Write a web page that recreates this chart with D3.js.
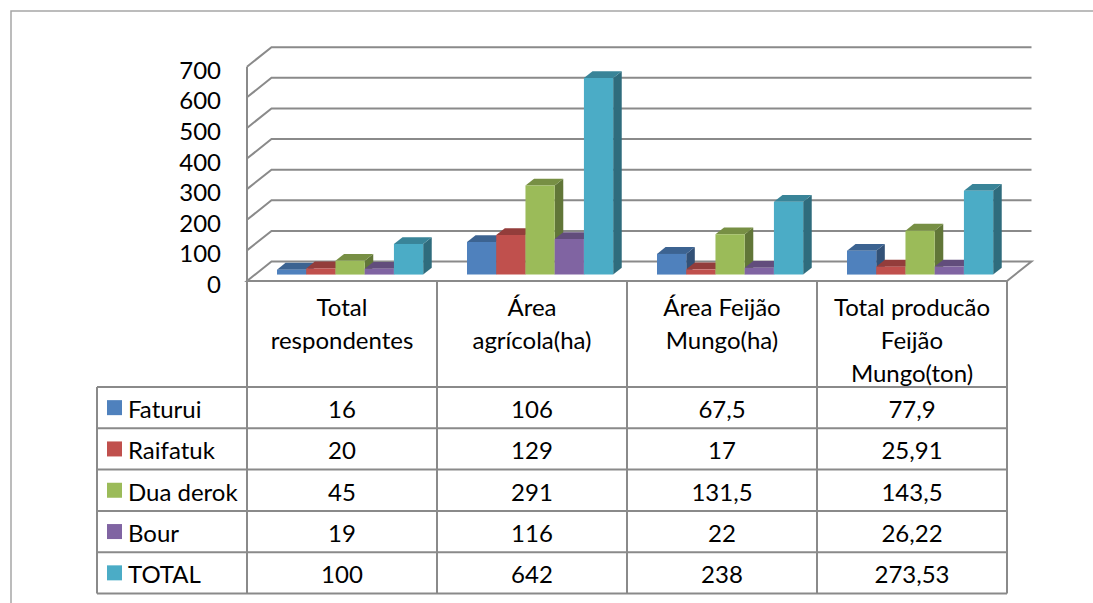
<!DOCTYPE html>
<html>
<head>
<meta charset="utf-8">
<script src="https://cdn.jsdelivr.net/npm/d3@7"></script>
<style>
  body { margin: 0; background: #fff; }
  svg { display: block; font-family: Lato, "Open Sans", sans-serif; }
</style>
</head>
<body>
<div id="chart"></div>
<script>
// categories (table header) and the wrapped lines Excel shows for them
var categories = ['Total respondentes', 'Área agrícola(ha)', 'Área Feijão Mungo(ha)', 'Total producão Feijão Mungo(ton)'];
var categoryLines = [
  ['Total', 'respondentes'],
  ['Área', 'agrícola(ha)'],
  ['Área Feijão', 'Mungo(ha)'],
  ['Total producão', 'Feijão', 'Mungo(ton)']
];

var seriesNames = ['Faturui', 'Raifatuk', 'Dua derok', 'Bour', 'TOTAL'];
var seriesColors = ['#4F81BD', '#C0504D', '#9BBB59', '#8064A2', '#4BACC6'];

var faturui  = [16, 106, 67.5, 77.9];
var raifatuk = [20, 129, 17, 25.91];
var duaDerok = [45, 291, 131.5, 143.5];
var bour     = [19, 116, 22, 26.22];
var total    = [100, 642, 238, 273.53];
var seriesValues = [faturui, raifatuk, duaDerok, bour, total];

var yTicks = [0, 100, 200, 300, 400, 500, 600, 700];

var W = 1093, H = 603;
var DX = 24.5, DY = -19.5;          // depth offset of the 3D box
var barDepth = [0.33, 0.68];         // bars sit in the middle of the depth
var plotL = 247, plotR = 1007;
var rowH = 41.3, headerBottom = 387;
var fontSize = 24;

var svg = d3.select('#chart').append('svg')
  .attr('width', W).attr('height', H);

svg.append('rect').attr('width', W).attr('height', H).attr('fill', '#fff');

// outer chart border (only top and left fall inside the picture)
svg.append('path')
  .attr('d', 'M11,' + H + 'V11H' + W)
  .attr('fill', 'none').attr('stroke', '#a6a6a6').attr('stroke-width', 1.5);

var x = d3.scaleBand().domain(categories).range([plotL, plotR]);
var xs = d3.scaleBand().domain(seriesNames).range([0, x.bandwidth()])
  .paddingInner(0).paddingOuter(0.75);
var y = d3.scaleLinear().domain([0, 700]).range([281, 66.7]);

function pt(px, py, d) { return [px + d * DX, py + d * DY]; }
function poly(pts) { return pts.map(function(p) { return p.join(','); }).join(' '); }

var gridColor = '#8a8a8a';

// floor
svg.append('polygon')
  .attr('points', poly([pt(plotL, y(0), 0), pt(plotL, y(0), 1), pt(plotR, y(0), 1), pt(plotR, y(0), 0)]))
  .attr('fill', '#fff').attr('stroke', gridColor).attr('stroke-width', 2);

// gridlines on left and back walls
svg.append('g').selectAll('polyline')
  .data(yTicks.filter(function(v) { return v > 0; }))
  .enter()
  .append('polyline')
  .attr('points', function(v) {
    return poly([pt(plotL, y(v), 0), pt(plotL, y(v), 1), pt(plotR, y(v), 1)]);
  })
  .attr('fill', 'none').attr('stroke', gridColor).attr('stroke-width', 2);

// front vertical axis edge
svg.append('line')
  .attr('x1', plotL).attr('x2', plotL)
  .attr('y1', y(700)).attr('y2', y(0))
  .attr('stroke', gridColor).attr('stroke-width', 2);

// y tick labels
svg.append('g').selectAll('text')
  .data(yTicks)
  .enter()
  .append('text')
  .attr('x', 221)
  .attr('y', function(v) { return y(v) + 2.5; })
  .attr('text-anchor', 'end')
  .attr('dominant-baseline', 'central')
  .attr('font-size', fontSize)
  .text(function(v) { return v; });

// 3D bars, drawn left to right so each bar hides the side of the one before
var bars = [];
categories.forEach(function(c, ci) {
  seriesNames.forEach(function(s, si) {
    bars.push({ cat: c, ser: s, color: seriesColors[si], value: seriesValues[si][ci] });
  });
});

var barG = svg.append('g');
bars.forEach(function(b) {
  var x0 = x(b.cat) + xs(b.ser), x1 = x0 + xs.bandwidth();
  var y0 = y(0), y1 = y(b.value);
  var f = barDepth[0], k = barDepth[1];
  var base = d3.color(b.color);
  // right side
  barG.append('polygon')
    .attr('points', poly([pt(x1, y0, f), pt(x1, y1, f), pt(x1, y1, k), pt(x1, y0, k)]))
    .attr('fill', base.darker(1.3));
  // top
  barG.append('polygon')
    .attr('points', poly([pt(x0, y1, f), pt(x1, y1, f), pt(x1, y1, k), pt(x0, y1, k)]))
    .attr('fill', base.darker(0.75));
  // front
  barG.append('polygon')
    .attr('points', poly([pt(x0, y0, f), pt(x1, y0, f), pt(x1, y1, f), pt(x0, y1, f)]))
    .attr('fill', base);
});

// data table
var tbl = svg.append('g').attr('stroke', gridColor).attr('stroke-width', 2);
var tableBottom = headerBottom + rowH * seriesNames.length;
x.domain().forEach(function(c) {
  tbl.append('line').attr('x1', x(c)).attr('x2', x(c)).attr('y1', y(0)).attr('y2', tableBottom);
});
tbl.append('line').attr('x1', plotR).attr('x2', plotR).attr('y1', y(0)).attr('y2', tableBottom);
tbl.append('line').attr('x1', 97).attr('x2', 97).attr('y1', headerBottom).attr('y2', tableBottom);
d3.range(seriesNames.length + 1).forEach(function(i) {
  var yy = headerBottom + i * rowH;
  tbl.append('line').attr('x1', 97).attr('x2', plotR).attr('y1', yy).attr('y2', yy);
});

// header text
categoryLines.forEach(function(lines, ci) {
  lines.forEach(function(line, li) {
    svg.append('text')
      .attr('x', x(categories[ci]) + x.bandwidth() / 2)
      .attr('y', 306 + li * 33)
      .attr('text-anchor', 'middle')
      .attr('dominant-baseline', 'central')
      .attr('font-size', fontSize)
      .text(line);
  });
});

// rows: legend key + values
function fmt(v) { return String(v).replace('.', ','); }
seriesNames.forEach(function(s, si) {
  var cy = headerBottom + si * rowH + rowH / 2;
  svg.append('rect')
    .attr('x', 107).attr('y', cy - 7.5)
    .attr('width', 15).attr('height', 15)
    .attr('fill', seriesColors[si]);
  svg.append('text')
    .attr('x', 128).attr('y', cy + 1)
    .attr('dominant-baseline', 'central')
    .attr('font-size', fontSize)
    .text(s);
  categories.forEach(function(c, ci) {
    svg.append('text')
      .attr('x', x(c) + x.bandwidth() / 2).attr('y', cy + 1)
      .attr('text-anchor', 'middle')
      .attr('dominant-baseline', 'central')
      .attr('font-size', fontSize)
      .text(fmt(seriesValues[si][ci]));
  });
});
</script>
</body>
</html>
